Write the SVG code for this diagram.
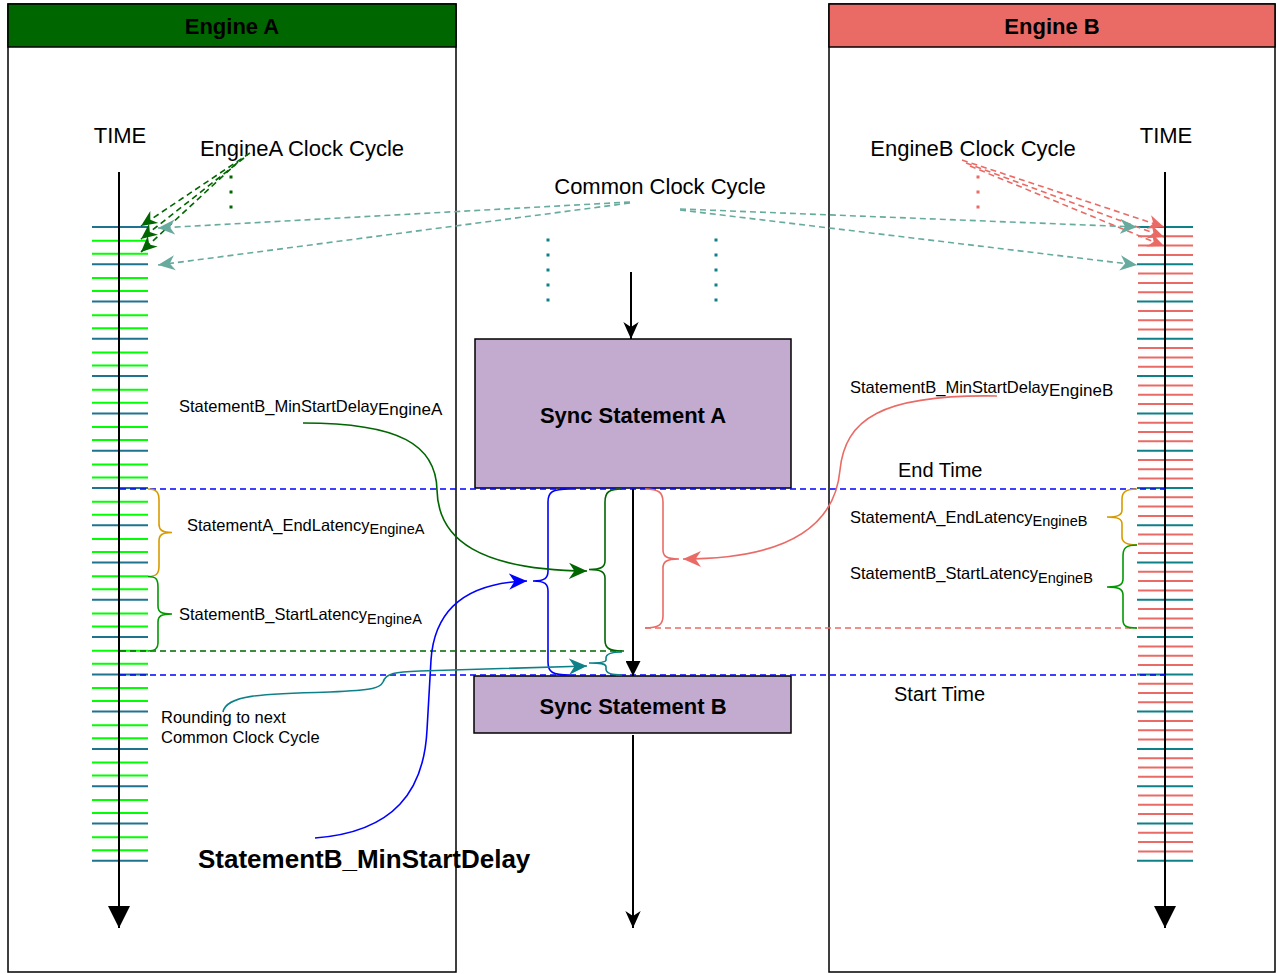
<svg xmlns="http://www.w3.org/2000/svg" width="1277" height="974" viewBox="0 0 1277 974">
<style>
text{font-family:"Liberation Sans",Arial,Helvetica,sans-serif;fill:#000}
.hd{font-size:22px;font-weight:bold}
.big{font-size:22px}
.mid{font-size:20px}
.lb{font-size:16.5px}
.sub{font-size:14.5px}
.bold{font-weight:bold}
.ax{stroke:#000;stroke-width:2;fill:none}
.dash{fill:none;stroke-width:1.6;stroke-dasharray:6 4}
.brace{fill:none;stroke-width:1.6}
</style>
<defs>
<marker id="m-green" viewBox="0 0 10 10" refX="10" refY="5" markerWidth="16" markerHeight="16" markerUnits="userSpaceOnUse" orient="auto"><path d="M0,0.5 L10,5 L0,9.5 L3,5 Z" fill="#006600"/></marker>
<marker id="m-green-l" viewBox="0 0 10 10" refX="10" refY="5" markerWidth="18" markerHeight="18" markerUnits="userSpaceOnUse" orient="auto"><path d="M0,0.5 L10,5 L0,9.5 L3,5 Z" fill="#006600"/></marker>
<marker id="m-cteal" viewBox="0 0 10 10" refX="10" refY="5" markerWidth="17" markerHeight="17" markerUnits="userSpaceOnUse" orient="auto"><path d="M0,0.5 L10,5 L0,9.5 L3,5 Z" fill="#67AB9F"/></marker>
<marker id="m-red" viewBox="0 0 10 10" refX="10" refY="5" markerWidth="16" markerHeight="16" markerUnits="userSpaceOnUse" orient="auto"><path d="M0,0.5 L10,5 L0,9.5 L3,5 Z" fill="#EA6B66"/></marker>
<marker id="m-red-l" viewBox="0 0 10 10" refX="10" refY="5" markerWidth="18" markerHeight="18" markerUnits="userSpaceOnUse" orient="auto"><path d="M0,0.5 L10,5 L0,9.5 L3,5 Z" fill="#EA6B66"/></marker>
<marker id="m-blue" viewBox="0 0 10 10" refX="10" refY="5" markerWidth="18" markerHeight="18" markerUnits="userSpaceOnUse" orient="auto"><path d="M0,0.5 L10,5 L0,9.5 L3,5 Z" fill="#0000FF"/></marker>
<marker id="m-teal" viewBox="0 0 10 10" refX="10" refY="5" markerWidth="18" markerHeight="18" markerUnits="userSpaceOnUse" orient="auto"><path d="M0,0.5 L10,5 L0,9.5 L3,5 Z" fill="#0E8088"/></marker>
<marker id="m-black" viewBox="0 0 10 10" refX="10" refY="5" markerWidth="17" markerHeight="17" markerUnits="userSpaceOnUse" orient="auto"><path d="M0,0.5 L10,5 L0,9.5 L3,5 Z" fill="#000"/></marker>
<marker id="m-block" viewBox="0 0 10 10" refX="10" refY="5" markerWidth="15" markerHeight="15" markerUnits="userSpaceOnUse" orient="auto"><path d="M0,0 L10,5 L0,10 Z" fill="#000"/></marker>
<marker id="m-axis" viewBox="0 0 10 10" refX="10" refY="5" markerWidth="22" markerHeight="22" markerUnits="userSpaceOnUse" orient="auto"><path d="M0,0 L10,5 L0,10 Z" fill="#000"/></marker>
</defs>
<rect width="1277" height="974" fill="#fff"/>

<g id="engine-a">
<rect x="8" y="4" width="448" height="968" fill="none" stroke="#000" stroke-width="1.5"/>
<rect x="8" y="4" width="448" height="43" fill="#006600" stroke="#000" stroke-width="1.5"/>
<text class="hd" x="232" y="34" text-anchor="middle">Engine A</text>
</g>
<g id="engine-b">
<rect x="829" y="4" width="446" height="968" fill="none" stroke="#000" stroke-width="1.5"/>
<rect x="829" y="4" width="446" height="43" fill="#EA6B66" stroke="#000" stroke-width="1.5"/>
<text class="hd" x="1052" y="34" text-anchor="middle">Engine B</text>
</g>

<g id="timeline-a">
<text class="big" x="120" y="143" text-anchor="middle">TIME</text>
<path d="M92,240.7H148M92,253.7H148M92,278H148M92,291H148M92,315.3H148M92,328.3H148M92,352.5H148M92,365.5H148M92,389.8H148M92,402.8H148M92,427.1H148M92,440.1H148M92,464.4H148M92,477.4H148M92,501.7H148M92,514.7H148M92,538.9H148M92,551.9H148M92,576.2H148M92,589.2H148M92,613.5H148M92,626.5H148M92,650.8H148M92,663.8H148M92,688.1H148M92,701.1H148M92,725.3H148M92,738.3H148M92,762.6H148M92,775.6H148M92,799.9H148M92,812.9H148M92,837.2H148M92,850.2H148" stroke="#00FF00" stroke-width="2"/>
<path d="M92,227H148M92,264.3H148M92,301.6H148M92,338.8H148M92,376.1H148M92,413.4H148M92,450.7H148M92,488H148M92,525.2H148M92,562.5H148M92,599.8H148M92,637.1H148M92,674.4H148M92,711.6H148M92,748.9H148M92,786.2H148M92,823.5H148M92,860.8H148" stroke="#1F7390" stroke-width="2"/>
<line class="ax" x1="119" y1="172" x2="119" y2="928" marker-end="url(#m-axis)"/>
</g>

<g id="timeline-b">
<text class="big" x="1166" y="143" text-anchor="middle">TIME</text>
<path d="M1138,236.3H1193M1138,245.6H1193M1138,254.9H1193M1138,273.6H1193M1138,282.9H1193M1138,292.2H1193M1138,310.9H1193M1138,320.2H1193M1138,329.5H1193M1138,348.1H1193M1138,357.4H1193M1138,366.7H1193M1138,385.4H1193M1138,394.7H1193M1138,404H1193M1138,422.7H1193M1138,432H1193M1138,441.3H1193M1138,460H1193M1138,469.3H1193M1138,478.6H1193M1138,497.3H1193M1138,506.6H1193M1138,515.9H1193M1138,534.5H1193M1138,543.8H1193M1138,553.1H1193M1138,571.8H1193M1138,581.1H1193M1138,590.4H1193M1138,609.1H1193M1138,618.4H1193M1138,627.7H1193M1138,646.4H1193M1138,655.7H1193M1138,665H1193M1138,683.7H1193M1138,693H1193M1138,702.3H1193M1138,720.9H1193M1138,730.2H1193M1138,739.5H1193M1138,758.2H1193M1138,767.5H1193M1138,776.8H1193M1138,795.5H1193M1138,804.8H1193M1138,814.1H1193M1138,832.8H1193M1138,842.1H1193M1138,851.4H1193" stroke="#EA6B66" stroke-width="2"/>
<path d="M1137,227H1193M1137,264.3H1193M1137,301.6H1193M1137,338.8H1193M1137,376.1H1193M1137,413.4H1193M1137,450.7H1193M1137,488H1193M1137,525.2H1193M1137,562.5H1193M1137,599.8H1193M1137,637.1H1193M1137,674.4H1193M1137,711.6H1193M1137,748.9H1193M1137,786.2H1193M1137,823.5H1193M1137,860.8H1193" stroke="#0E8088" stroke-width="2"/>
<line class="ax" x1="1165" y1="172" x2="1165" y2="928" marker-end="url(#m-axis)"/>
</g>

<g id="sync-a">
<rect x="475" y="339" width="316" height="149" fill="#C3ABD0" stroke="#000" stroke-width="1.5"/>
<text class="hd" x="633" y="423" text-anchor="middle">Sync Statement A</text>
</g>
<g id="sync-b">
<rect x="474" y="676" width="317" height="57" fill="#C3ABD0" stroke="#000" stroke-width="1.5"/>
<text class="hd" x="633" y="714" text-anchor="middle">Sync Statement B</text>
</g>

<g id="labels">
<text class="big" x="302" y="156" text-anchor="middle">EngineA Clock Cycle</text>
<text class="big" x="973" y="156" text-anchor="middle">EngineB Clock Cycle</text>
<text class="big" x="660" y="194" text-anchor="middle">Common Clock Cycle</text>
<text class="mid" x="898" y="477">End Time</text>
<text class="mid" x="894" y="701">Start Time</text>
<text class="lb" x="179" y="412">StatementB_MinStartDelay<tspan font-size="17" dy="3">EngineA</tspan></text>
<text class="lb" x="187" y="531">StatementA_EndLatency<tspan class="sub" dy="3">EngineA</tspan></text>
<text class="lb" x="179" y="620">StatementB_StartLatency<tspan class="sub" dy="4">EngineA</tspan></text>
<text class="lb" x="161" y="723">Rounding to next</text>
<text class="lb" x="161" y="743">Common Clock Cycle</text>
<text class="bold" font-size="26" x="198" y="868">StatementB_MinStartDelay</text>
<text class="lb" x="850" y="393">StatementB_MinStartDelay<tspan font-size="17" dy="3">EngineB</tspan></text>
<text class="lb" x="850" y="523">StatementA_EndLatency<tspan class="sub" dy="3">EngineB</tspan></text>
<text class="lb" x="850" y="579">StatementB_StartLatency<tspan class="sub" dy="4">EngineB</tspan></text>
</g>

<g id="connectors">
<line x1="231" y1="175.5" x2="231" y2="209" stroke="#006600" stroke-width="3" stroke-dasharray="3 12"/>
<line x1="978" y1="175.5" x2="978" y2="209" stroke="#EA6B66" stroke-width="3" stroke-dasharray="3 12"/>
<line x1="548" y1="238.5" x2="548" y2="302" stroke="#0E8088" stroke-width="3" stroke-dasharray="3 12"/>
<line x1="716" y1="238.5" x2="716" y2="302" stroke="#0E8088" stroke-width="3" stroke-dasharray="3 12"/>
<line class="dash" stroke="#006600" x1="250" y1="153" x2="141" y2="226" marker-end="url(#m-green)"/>
<line class="dash" stroke="#006600" x1="244" y1="158" x2="141" y2="239" marker-end="url(#m-green)"/>
<line class="dash" stroke="#006600" x1="238" y1="162" x2="141" y2="252" marker-end="url(#m-green)"/>
<line class="dash" stroke="#EA6B66" x1="962" y1="160" x2="1164" y2="227" marker-end="url(#m-red)"/>
<line class="dash" stroke="#EA6B66" x1="966" y1="163" x2="1164" y2="237" marker-end="url(#m-red)"/>
<line class="dash" stroke="#EA6B66" x1="970" y1="166" x2="1164" y2="246" marker-end="url(#m-red)"/>
<line class="dash" stroke="#67AB9F" x1="630" y1="202" x2="158" y2="228" marker-end="url(#m-cteal)"/>
<line class="dash" stroke="#67AB9F" x1="630" y1="203" x2="158" y2="265" marker-end="url(#m-cteal)"/>
<line class="dash" stroke="#67AB9F" x1="680" y1="209" x2="1137" y2="227" marker-end="url(#m-cteal)"/>
<line class="dash" stroke="#67AB9F" x1="680" y1="210" x2="1137" y2="265" marker-end="url(#m-cteal)"/>
<line class="dash" stroke="#0000FF" x1="120" y1="489" x2="1165" y2="489"/>
<line class="dash" stroke="#0000FF" x1="120" y1="675" x2="1165" y2="675"/>
<line class="dash" stroke="#006600" x1="120" y1="651" x2="624" y2="651"/>
<line class="dash" stroke="#EA6B66" x1="645" y1="628" x2="1137" y2="628"/>
<line class="ax" x1="631" y1="272" x2="631" y2="339" marker-end="url(#m-black)"/>
<line class="ax" x1="633" y1="489" x2="633" y2="676" marker-end="url(#m-block)"/>
<line class="ax" x1="633" y1="735" x2="633" y2="928" marker-end="url(#m-black)"/>
<path class="brace" stroke="#D79B00" d="M148,489 C156,489 159,492 159,500 L159,524 C159,530 162,532.5 172,532.5 M172,532.5 C162,532.5 159,535 159,541 L159,566 C159,574 156,576.5 148,576.5"/>
<path class="brace" stroke="#009900" d="M148,576.5 C156,576.5 158,579 158,587 L158,606 C158,612 161,614 172,614 M172,614 C161,614 158,616 158,622 L158,643 C158,649 155,651 148,651"/>
<path class="brace" stroke="#D79B00" d="M1137,489 C1126,489 1122,492 1122,499 L1122,510 C1122,515 1118,517 1107,517 M1107,517 C1118,517 1122,519 1122,524 L1122,537 C1122,542 1126,545 1137,545"/>
<path class="brace" stroke="#009900" d="M1137,545 C1126,545 1123,548 1123,556 L1123,579 C1123,585 1119,587 1107,587 M1107,587 C1119,587 1123,589 1123,595 L1123,620 C1123,626 1126,628 1137,628"/>
<path class="brace" stroke="#0000FF" d="M570,489 C552,489 548,492 548,502 L548,571 C548,578 545,581 533,581 M533,581 C545,581 548,584 548,591 L548,662 C548,672 552,675 570,675"/>
<path class="brace" stroke="#006600" d="M622,489 C609,489 605,492 605,502 L605,561 C605,567 601,569.5 589,569.5 M589,569.5 C601,569.5 605,572 605,578 L605,640 C605,648 609,651 622,651"/>
<path class="brace" stroke="#0E8088" d="M622,652 C610,652 606,654 606,658 L606,660 C606,662 602,663 589,663 M589,663 C602,663 606,664 606,667 L606,669 C606,673 610,675 622,675"/>
<path class="brace" stroke="#EA6B66" d="M645,489 C658,489 663,492 663,502 L663,550 C663,556 666,559 679,559 M679,559 C666,559 663,562 663,568 L663,616 C663,625 658,628 645,628"/>
<path fill="none" stroke="#006600" stroke-width="1.6" d="M303,423 C400,423 436,445 437,490 C438,540 480,570 587,571" marker-end="url(#m-green-l)"/>
<path fill="none" stroke="#EA6B66" stroke-width="1.6" d="M997,396 C880,394 845,420 840,470 C835,525 790,559 683,559" marker-end="url(#m-red-l)"/>
<path fill="none" stroke="#0000FF" stroke-width="1.6" d="M315,838 C395,832 424,790 427,730 L431,660 C434,615 460,583 527,581" marker-end="url(#m-blue)"/>
<path fill="none" stroke="#0E8088" stroke-width="1.6" d="M223,712 C226,695 260,694 330,692 C375,690 380,688 383,682 C386,673 395,672 420,671 L587,666" marker-end="url(#m-teal)"/>
</g>
</svg>
